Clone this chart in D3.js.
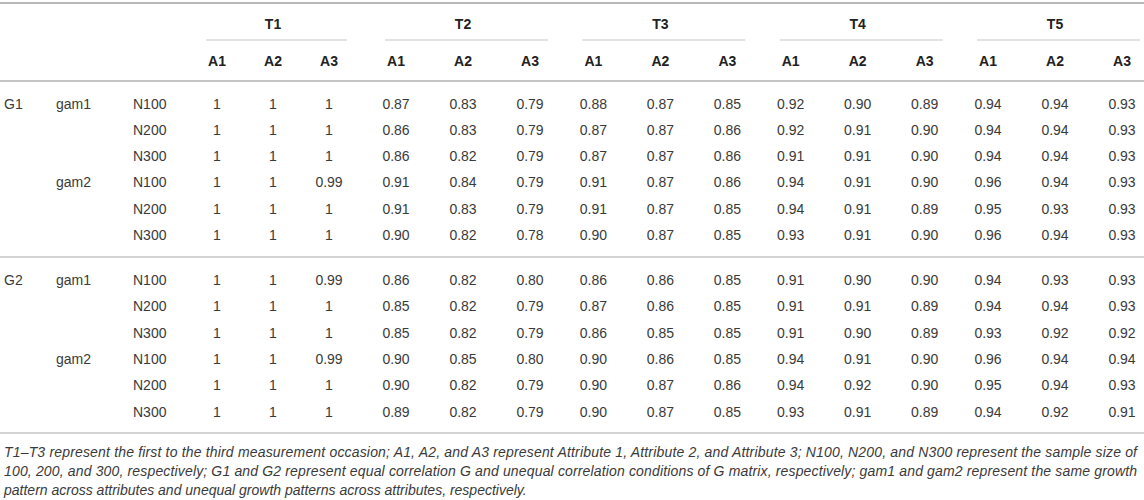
<!DOCTYPE html>
<html>
<head>
<meta charset="utf-8">
<script src="https://cdn.jsdelivr.net/npm/d3@7"></script>
<style>
  html, body { margin: 0; padding: 0; background: #fff; }
  svg { display: block; font-family: 'Liberation Sans', Arial, sans-serif; }
  .cell { font-size: 14px; fill: #3a3a3a; }
  .head { font-size: 14px; font-weight: bold; fill: #222; }
  .note { font-size: 14px; font-style: italic; fill: #3a3a3a; }
</style>
</head>
<body>
<svg id="table" width="1144" height="500"></svg>
<script>
  'use strict';

  // table labels
  const timePoints = ['T1', 'T2', 'T3', 'T4', 'T5'];
  const attributes = ['A1', 'A2', 'A3'];
  const gMatrices = ['G1', 'G2'];
  const growthPatterns = ['gam1', 'gam2'];
  const sampleSizes = ['N100', 'N200', 'N300'];

  // one row per G x gam x N, columns A1..A3
  const t1Values = [
    [1, 1, 1], [1, 1, 1], [1, 1, 1],
    [1, 1, 0.99], [1, 1, 1], [1, 1, 1],
    [1, 1, 0.99], [1, 1, 1], [1, 1, 1],
    [1, 1, 0.99], [1, 1, 1], [1, 1, 1]
  ];
  const t2Values = [
    [0.87, 0.83, 0.79], [0.86, 0.83, 0.79], [0.86, 0.82, 0.79],
    [0.91, 0.84, 0.79], [0.91, 0.83, 0.79], [0.90, 0.82, 0.78],
    [0.86, 0.82, 0.80], [0.85, 0.82, 0.79], [0.85, 0.82, 0.79],
    [0.90, 0.85, 0.80], [0.90, 0.82, 0.79], [0.89, 0.82, 0.79]
  ];
  const t3Values = [
    [0.88, 0.87, 0.85], [0.87, 0.87, 0.86], [0.87, 0.87, 0.86],
    [0.91, 0.87, 0.86], [0.91, 0.87, 0.85], [0.90, 0.87, 0.85],
    [0.86, 0.86, 0.85], [0.87, 0.86, 0.85], [0.86, 0.85, 0.85],
    [0.90, 0.86, 0.85], [0.90, 0.87, 0.86], [0.90, 0.87, 0.85]
  ];
  const t4Values = [
    [0.92, 0.90, 0.89], [0.92, 0.91, 0.90], [0.91, 0.91, 0.90],
    [0.94, 0.91, 0.90], [0.94, 0.91, 0.89], [0.93, 0.91, 0.90],
    [0.91, 0.90, 0.90], [0.91, 0.91, 0.89], [0.91, 0.90, 0.89],
    [0.94, 0.91, 0.90], [0.94, 0.92, 0.90], [0.93, 0.91, 0.89]
  ];
  const t5Values = [
    [0.94, 0.94, 0.93], [0.94, 0.94, 0.93], [0.94, 0.94, 0.93],
    [0.96, 0.94, 0.93], [0.95, 0.93, 0.93], [0.96, 0.94, 0.93],
    [0.94, 0.93, 0.93], [0.94, 0.94, 0.93], [0.93, 0.92, 0.92],
    [0.96, 0.94, 0.94], [0.95, 0.94, 0.93], [0.94, 0.92, 0.91]
  ];

  const footnoteLines = [
    'T1–T3 represent the first to the third measurement occasion; A1, A2, and A3 represent Attribute 1, Attribute 2, and Attribute 3; N100, N200, and N300 represent the sample size of',
    '100, 200, and 300, respectively; G1 and G2 represent equal correlation G and unequal correlation conditions of G matrix, respectively; gam1 and gam2 represent the same growth',
    'pattern across attributes and unequal growth patterns across attributes, respectively.'
  ];

  const valuesByTime = [t1Values, t2Values, t3Values, t4Values, t5Values];

  const svg = d3.select('#table');
  const width = 1144;

  // columns: T1 is narrower than the others
  const groupX = d3.scalePoint().domain(timePoints.slice(1)).range([463, 1055]);
  const groupCenter = (t) => (t === 'T1' ? 273 : groupX(t));
  const innerStep = (t) => (t === 'T1' ? 56 : 67);
  const attrOffset = d3.scalePoint().domain(attributes).range([-1, 1]);
  const colX = (t, a) => groupCenter(t) + attrOffset(a) * innerStep(t);

  // rows: 12 body rows, with a gap between G1 and G2 blocks
  const rowStep = 26.3;
  const rowY = d3.scaleLinear().domain([0, 5]).range([103.5, 103.5 + 5 * rowStep]);
  const blockGap = 280 - rowY(6);
  const bodyY = (i) => rowY(i) + (i >= 6 ? blockGap : 0);

  const fmt = (v) => (v === 1 ? '1' : d3.format('.2f')(v));

  // rules
  const rules = [
    { y: 3, w: 2, c: '#b8b8b8' },
    { y: 81, w: 2, c: '#c4c4c4' },
    { y: 257, w: 1.5, c: '#c4c4c4' },
    { y: 433, w: 1.5, c: '#c4c4c4' }
  ];
  svg.append('g').selectAll('line').data(rules).enter().append('line')
    .attr('x1', 0).attr('x2', width)
    .attr('y1', (d) => d.y).attr('y2', (d) => d.y)
    .attr('stroke', (d) => d.c).attr('stroke-width', (d) => d.w);

  // time headers with underline
  const head = svg.append('g');
  head.selectAll('text.t').data(timePoints).enter().append('text')
    .attr('class', 'head')
    .attr('x', (t) => groupCenter(t))
    .attr('y', 29)
    .attr('text-anchor', 'middle')
    .text((t) => t);
  head.selectAll('line').data(timePoints).enter().append('line')
    .attr('x1', (t) => colX(t, 'A1') - 11)
    .attr('x2', (t) => colX(t, 'A3') + 18)
    .attr('y1', 40).attr('y2', 40)
    .attr('stroke', '#c8c8c8').attr('stroke-width', 1.2);

  const attrCells = timePoints.flatMap((t) => attributes.map((a) => ({ t, a })));
  head.selectAll('text.a').data(attrCells).enter().append('text')
    .attr('class', 'head')
    .attr('x', (d) => colX(d.t, d.a))
    .attr('y', 66)
    .attr('text-anchor', 'middle')
    .text((d) => d.a);

  // row labels
  const rows = gMatrices.flatMap((g) => growthPatterns.flatMap((gam) => sampleSizes.map((n) => ({ g, gam, n }))));
  const labels = svg.append('g');
  rows.forEach((r, i) => {
    const y = bodyY(i) + 5;
    if (i % 6 === 0) labels.append('text').attr('class', 'cell').attr('x', 4).attr('y', y).text(r.g);
    if (i % 3 === 0) labels.append('text').attr('class', 'cell').attr('x', 56).attr('y', y).text(r.gam);
    labels.append('text').attr('class', 'cell').attr('x', 133).attr('y', y).text(r.n);
  });

  // value cells
  const cells = [];
  valuesByTime.forEach((vals, ti) => {
    vals.forEach((row, ri) => {
      row.forEach((v, ai) => cells.push({ t: timePoints[ti], a: attributes[ai], ri, v }));
    });
  });
  svg.append('g').selectAll('text').data(cells).enter().append('text')
    .attr('class', 'cell')
    .attr('x', (d) => colX(d.t, d.a))
    .attr('y', (d) => bodyY(d.ri) + 5)
    .attr('text-anchor', 'middle')
    .text((d) => fmt(d.v));

  // footnote
  svg.append('g').selectAll('text').data(footnoteLines).enter().append('text')
    .attr('class', 'note')
    .attr('x', 4)
    .attr('y', (d, i) => 456.5 + i * 19.3)
    .attr('textLength', (d, i) => (i < 2 ? 1133 : null))
    .attr('lengthAdjust', 'spacing')
    .text((d) => d);
</script>
</body>
</html>
